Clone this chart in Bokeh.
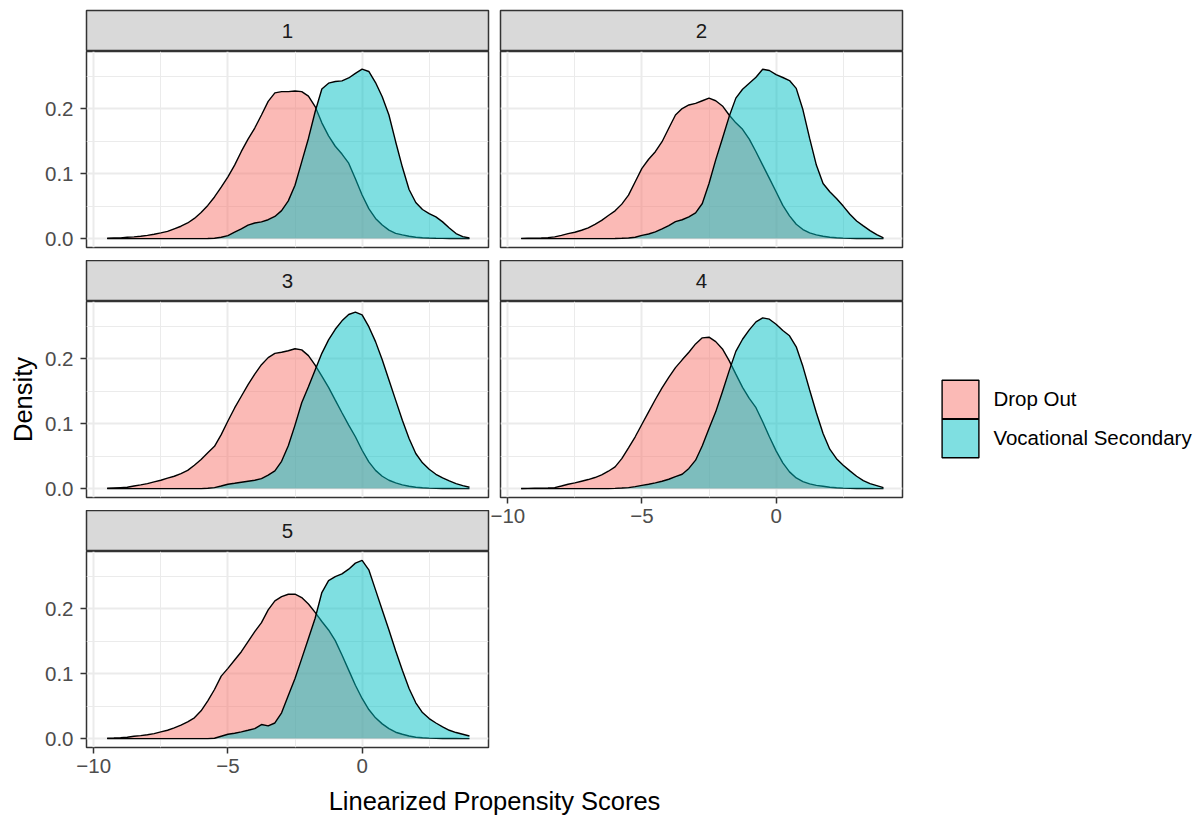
from bokeh.plotting import figure
from bokeh.layouts import column, row
from bokeh.models import (ColumnDataSource, Range1d, FixedTicker, PrintfTickFormatter,
                          Label, Legend, LegendItem)
from bokeh.embed import file_html
from bokeh.resources import INLINE

# Evaluation points of the density estimates (linearized propensity score)
score = [-9.5, -9.25, -9.0, -8.75, -8.5, -8.25, -8.0, -7.75, -7.5, -7.25, -7.0, -6.75,
         -6.5, -6.25, -6.0, -5.75, -5.5, -5.25, -5.0, -4.75, -4.5, -4.25, -4.0, -3.75,
         -3.5, -3.25, -3.0, -2.75, -2.5, -2.25, -2.0, -1.75, -1.5, -1.25, -1.0, -0.75,
         -0.5, -0.25, 0.0, 0.25, 0.5, 0.75, 1.0, 1.25, 1.5, 1.75, 2.0, 2.25,
         2.5, 2.75, 3.0, 3.25, 3.5, 3.75, 4.0]

# Density per imputation (1..5) and outcome group
dropout_1 = [0.0005, 0.001, 0.001, 0.002, 0.0026, 0.0036, 0.005, 0.0067,
             0.0087, 0.011, 0.015, 0.019, 0.024, 0.031, 0.040, 0.051,
             0.064, 0.079, 0.095, 0.113, 0.134, 0.153, 0.170, 0.190,
             0.211, 0.224, 0.226, 0.226, 0.227, 0.226, 0.219, 0.203,
             0.178, 0.158, 0.142, 0.130, 0.116, 0.092, 0.067, 0.046,
             0.031, 0.021, 0.013, 0.008, 0.0057, 0.0036, 0.002, 0.0012,
             0.0008, 0.0005, 0.0003, 0.0002, 0.0001, 0.0001, 0.0]
vocational_1 = [0, 0, 0, 0, 0, 0, 0, 0,
                0, 0, 0, 0, 0, 0, 0, 0.0002,
                0.0005, 0.002, 0.0046, 0.0098, 0.015, 0.0206, 0.024, 0.0257,
                0.029, 0.034, 0.043, 0.058, 0.082, 0.118, 0.154, 0.195,
                0.230, 0.239, 0.2415, 0.2425, 0.247, 0.254, 0.2605, 0.257,
                0.240, 0.218, 0.190, 0.149, 0.110, 0.0755, 0.0555, 0.0447,
                0.0385, 0.0334, 0.0257, 0.0164, 0.0077, 0.003, 0.001]

dropout_2 = [0.0003, 0.0005, 0.0007, 0.001, 0.0015, 0.0026, 0.005, 0.0077,
             0.0098, 0.0128, 0.0164, 0.022, 0.028, 0.0355, 0.0427, 0.053,
             0.0668, 0.0874, 0.108, 0.122, 0.1336, 0.149, 0.1696, 0.190,
             0.200, 0.2055, 0.208, 0.212, 0.216, 0.212, 0.204, 0.190,
             0.178, 0.168, 0.153, 0.1336, 0.113, 0.0925, 0.072, 0.051,
             0.035, 0.022, 0.0139, 0.0087, 0.0057, 0.0036, 0.002, 0.0012,
             0.0007, 0.0004, 0.0002, 0.0001, 0.0001, 0.0, 0.0]
vocational_2 = [0, 0, 0, 0, 0, 0, 0, 0,
                0, 0, 0, 0, 0, 0, 0.0002, 0.0005,
                0.001, 0.002, 0.005, 0.007, 0.0103, 0.015, 0.020, 0.026,
                0.029, 0.0334, 0.0396, 0.054, 0.0848, 0.121, 0.154, 0.1876,
                0.216, 0.2297, 0.239, 0.248, 0.2605, 0.2585, 0.252, 0.2477,
                0.243, 0.231, 0.198, 0.154, 0.113, 0.0848, 0.072, 0.0617,
                0.050, 0.0375, 0.027, 0.0195, 0.0123, 0.006, 0.001]

dropout_3 = [0.0005, 0.001, 0.0015, 0.002, 0.004, 0.0057, 0.0077, 0.0103,
             0.0128, 0.016, 0.019, 0.023, 0.028, 0.036, 0.0447, 0.055,
             0.065, 0.083, 0.104, 0.124, 0.142, 0.160, 0.176, 0.1906,
             0.2014, 0.208, 0.2097, 0.212, 0.215, 0.2133, 0.2045, 0.190,
             0.173, 0.1557, 0.136, 0.1166, 0.0976, 0.0797, 0.059, 0.041,
             0.028, 0.019, 0.0128, 0.0087, 0.0057, 0.0036, 0.002, 0.0012,
             0.0007, 0.0004, 0.0002, 0.0001, 0.0001, 0.0, 0.0]
vocational_3 = [0, 0, 0, 0, 0, 0, 0, 0,
                0, 0, 0, 0, 0, 0, 0, 0.0005,
                0.0015, 0.004, 0.0067, 0.0082, 0.0098, 0.0113, 0.0128, 0.0154,
                0.0206, 0.0272, 0.042, 0.0658, 0.0976, 0.132, 0.1567, 0.1824,
                0.208, 0.2287, 0.245, 0.258, 0.2677, 0.2713, 0.267, 0.249,
                0.226, 0.198, 0.167, 0.136, 0.105, 0.077, 0.054, 0.0396,
                0.0298, 0.022, 0.0164, 0.0118, 0.0077, 0.0046, 0.002]

dropout_4 = [0.0002, 0.0003, 0.0005, 0.0007, 0.001, 0.0015, 0.004, 0.0067,
             0.0087, 0.0113, 0.0139, 0.017, 0.021, 0.0267, 0.0334, 0.046,
             0.0627, 0.0797, 0.099, 0.118, 0.137, 0.155, 0.171, 0.186,
             0.198, 0.2097, 0.2225, 0.2318, 0.2328, 0.226, 0.2148, 0.1968,
             0.176, 0.1557, 0.1387, 0.1244, 0.1028, 0.0797, 0.058, 0.0396,
             0.0257, 0.0164, 0.0108, 0.0072, 0.005, 0.0036, 0.002, 0.0012,
             0.0007, 0.0004, 0.0002, 0.0001, 0.0001, 0.0, 0.0]
vocational_4 = [0, 0, 0, 0, 0, 0, 0, 0,
                0, 0, 0, 0, 0, 0, 0.0003, 0.0008,
                0.0015, 0.003, 0.005, 0.0067, 0.0087, 0.0113, 0.0144, 0.0185,
                0.022, 0.031, 0.0437, 0.0658, 0.0925, 0.118, 0.149, 0.181,
                0.211, 0.2297, 0.244, 0.2564, 0.2626, 0.2605, 0.2528, 0.243,
                0.235, 0.218, 0.1876, 0.1516, 0.1166, 0.0848, 0.0606, 0.046,
                0.036, 0.0272, 0.019, 0.0123, 0.0077, 0.0046, 0.0015]

dropout_5 = [0.0005, 0.0008, 0.0012, 0.002, 0.0036, 0.0046, 0.006, 0.0077,
             0.0103, 0.0128, 0.0164, 0.0206, 0.0257, 0.0319, 0.0427, 0.058,
             0.0755, 0.096, 0.108, 0.1208, 0.1336, 0.149, 0.1644, 0.1783,
             0.198, 0.2117, 0.2184, 0.222, 0.222, 0.2169, 0.207, 0.194,
             0.180, 0.167, 0.1506, 0.1285, 0.1053, 0.082, 0.0617, 0.0447,
             0.0319, 0.0226, 0.0154, 0.0098, 0.0067, 0.004, 0.002, 0.0012,
             0.0007, 0.0004, 0.0002, 0.0001, 0.0001, 0.0, 0.0]
vocational_5 = [0, 0, 0, 0, 0, 0, 0, 0,
                0, 0, 0, 0, 0, 0, 0, 0,
                0.0005, 0.0036, 0.0067, 0.0082, 0.0103, 0.0128, 0.0154, 0.0216,
                0.0195, 0.024, 0.0396, 0.0663, 0.0925, 0.123, 0.154, 0.185,
                0.2246, 0.243, 0.249, 0.2533, 0.2605, 0.2698, 0.274, 0.2595,
                0.2287, 0.1978, 0.167, 0.135, 0.105, 0.077, 0.055, 0.040,
                0.0308, 0.024, 0.018, 0.0128, 0.0093, 0.0067, 0.004]

panel_names = ["1", "2", "3", "4", "5"]
groups = ["Drop Out", "Vocational Secondary"]
group_colors = ["#F8766D", "#00BFC4"]

x_ticks = [-10, -5, 0]
x_minor = [-7.5, -2.5, 2.5]
y_ticks = [0.0, 0.1, 0.2]
y_minor = [0.05, 0.15, 0.25]

FONT = "Liberation Sans"
SMALL = "20.5px"
LARGE = "25.5px"
BORDER = "#333333"

dropout = [dropout_1, dropout_2, dropout_3, dropout_4, dropout_5]
vocational = [vocational_1, vocational_2, vocational_3, vocational_4, vocational_5]

# shared scales, padded 5% like a default density plot
ymax = max(max(s) for s in dropout + vocational)
x_range = Range1d(-10.27, 4.71)
y_range = Range1d(-0.05 * ymax, 1.05 * ymax)

STRIP_H = 41
FRAME_H = 196
FRAME_W = 402
TOP = 10
AXIS_ROOM = 36


def make_strip(text, width, left, right, top):
    s = figure(width=width, height=STRIP_H + top, x_range=Range1d(0, 1), y_range=Range1d(0, 1),
               x_axis_location=None, y_axis_location=None, output_backend="svg",
               toolbar_location=None, min_border_left=left, min_border_right=right,
               min_border_top=top, min_border_bottom=0)
    s.grid.visible = False
    s.background_fill_color = "#D9D9D9"
    s.border_fill_color = "white"
    s.outline_line_color = BORDER
    s.outline_line_width = 1.5
    s.add_layout(Label(x=0.5, y=0.5, text=text, text_align="center", text_baseline="middle",
                       text_font=FONT, text_font_size=SMALL, text_color="#1A1A1A"))
    return s


def make_panel(d, v, width, left, right, bottom, show_y, show_x):
    height = FRAME_H + bottom
    p = figure(width=width, height=height, x_range=x_range, y_range=y_range,
               x_axis_location="below" if show_x else None,
               y_axis_location="left" if show_y else None,
               output_backend="svg", toolbar_location=None,
               min_border_left=left, min_border_right=right,
               min_border_top=0, min_border_bottom=bottom)
    p.background_fill_color = "white"
    p.border_fill_color = "white"
    p.outline_line_color = BORDER
    p.outline_line_width = 1.5

    p.xgrid.ticker = FixedTicker(ticks=x_ticks, minor_ticks=x_minor)
    p.ygrid.ticker = FixedTicker(ticks=y_ticks, minor_ticks=y_minor)
    for g in (p.xgrid[0], p.ygrid[0]):
        g.grid_line_color = "#EBEBEB"
        g.grid_line_width = 2
        g.minor_grid_line_color = "#EBEBEB"
        g.minor_grid_line_width = 1

    axes = []
    if show_x:
        p.xaxis.ticker = FixedTicker(ticks=x_ticks)
        p.xaxis.major_label_standoff = 5
        axes.append(p.xaxis[0])
    if show_y:
        p.yaxis.ticker = FixedTicker(ticks=y_ticks)
        p.yaxis.formatter = PrintfTickFormatter(format="%.1f")
        p.yaxis.major_label_standoff = 7
        axes.append(p.yaxis[0])
    for ax in axes:
        ax.axis_line_color = None
        ax.major_tick_line_color = BORDER
        ax.major_tick_line_width = 1.5
        ax.major_tick_out = 6
        ax.major_tick_in = 0
        ax.minor_tick_line_color = None
        ax.major_label_text_font = FONT
        ax.major_label_text_font_size = SMALL
        ax.major_label_text_color = "#4D4D4D"

    src = ColumnDataSource(dict(x=score, d=d, v=v))
    p.varea(x="x", y1=0, y2="d", source=src, fill_color=group_colors[0], fill_alpha=0.5)
    p.line(x="x", y="d", source=src, line_color="black", line_width=1.4)
    p.varea(x="x", y1=0, y2="v", source=src, fill_color=group_colors[1], fill_alpha=0.5)
    p.line(x="x", y="v", source=src, line_color="black", line_width=1.4)
    return p


LEFT_W = 86 + FRAME_W + 2       # left column: axis room + frame
RIGHT_W = 10 + FRAME_W + 2      # right column: gap + frame
LEGEND_W = 1204 - LEFT_W - RIGHT_W

strip1 = make_strip(panel_names[0], LEFT_W, 86, 2, TOP)
p1 = make_panel(dropout[0], vocational[0], LEFT_W, 86, 2, 13, True, False)
strip3 = make_strip(panel_names[2], LEFT_W, 86, 2, 0)
p3 = make_panel(dropout[2], vocational[2], LEFT_W, 86, 2, 13, True, False)
strip5 = make_strip(panel_names[4], LEFT_W, 86, 2, 0)
p5 = make_panel(dropout[4], vocational[4], LEFT_W, 86, 2, AXIS_ROOM, True, True)

strip2 = make_strip(panel_names[1], RIGHT_W, 10, 2, TOP)
p2 = make_panel(dropout[1], vocational[1], RIGHT_W, 10, 2, 13, False, False)
strip4 = make_strip(panel_names[3], RIGHT_W, 10, 2, 0)
p4 = make_panel(dropout[3], vocational[3], RIGHT_W, 10, 2, AXIS_ROOM, False, True)

# y title on the middle row
p3.yaxis.axis_label = "Density"
p3.yaxis.axis_label_text_font = FONT
p3.yaxis.axis_label_text_font_size = LARGE
p3.yaxis.axis_label_text_font_style = "normal"
p3.yaxis.axis_label_text_color = "black"
p3.yaxis.axis_label_standoff = 5

# legend column: its frame spans the same vertical extent as the panels
col_h = (STRIP_H + TOP) + (FRAME_H + 13) + STRIP_H + (FRAME_H + 13) + STRIP_H + (FRAME_H + AXIS_ROOM)
leg = figure(width=LEGEND_W, height=col_h, x_range=Range1d(0, 1), y_range=Range1d(0, 1),
             x_axis_location=None, y_axis_location=None, output_backend="svg",
             toolbar_location=None, min_border_left=0, min_border_right=0,
             min_border_top=TOP, min_border_bottom=AXIS_ROOM)
leg.grid.visible = False
leg.outline_line_color = None
frame_bottom = col_h - AXIS_ROOM   # page y of the legend frame's bottom edge

# one legend per entry so the outlined key boxes touch; the key glyphs are
# styled patches whose only vertex is undefined, so nothing shows in the frame
nan = float("nan")
key_box_bottoms = [423.2, 461.6]   # page y of each entry's glyph box bottom
for name, color, box_bottom in zip(groups, group_colors, key_box_bottoms):
    swatch = leg.patch(x=[nan], y=[nan], fill_color=color, fill_alpha=0.5,
                       line_color="black", line_width=1.4)
    lg = Legend(items=[LegendItem(label=name, renderers=[swatch])],
                location=(937.4 - LEFT_W - RIGHT_W, frame_bottom - box_bottom),
                orientation="vertical", glyph_width=46, glyph_height=48, label_standoff=10,
                padding=0, margin=0, spacing=0,
                border_line_color=None, background_fill_alpha=0,
                label_text_font=FONT, label_text_font_size=SMALL,
                label_text_color="black")
    leg.add_layout(lg)

# shared x title under both panel columns
xtitle = figure(width=1204, height=818 - col_h, x_range=Range1d(0, 1), y_range=Range1d(0, 1),
                x_axis_location=None, y_axis_location=None,
                output_backend="svg", toolbar_location=None, min_border=0)
xtitle.grid.visible = False
xtitle.outline_line_color = None
xtitle.add_layout(Label(x=494, y=18, x_units="screen", y_units="screen",
                        text="Linearized Propensity Scores", text_align="center",
                        text_baseline="middle", text_font=FONT, text_font_size=LARGE,
                        text_color="black"))

left_col = column(strip1, p1, strip3, p3, strip5, p5, spacing=0)
right_col = column(strip2, p2, strip4, p4, spacing=0)
page = column(row(left_col, right_col, leg, spacing=0), xtitle, spacing=0)

open("out.html", "w").write(file_html(page, INLINE))
